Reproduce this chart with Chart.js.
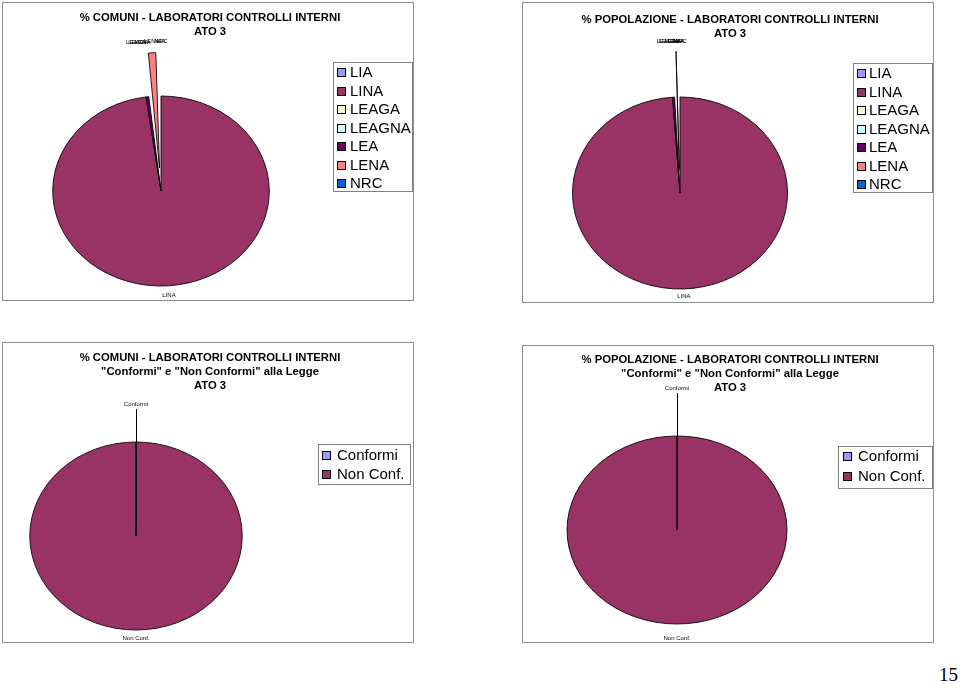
<!DOCTYPE html>
<html>
<head>
<meta charset="utf-8">
<script src="https://cdn.jsdelivr.net/npm/chart.js@4.4.0/dist/chart.umd.min.js"></script>
<style>
  body { margin: 0; background: #fff; width: 960px; height: 684px; position: relative; overflow: hidden; }
  .panel { position: absolute; border: 1px solid #8c8c8c; background: #fff; }
  .panel canvas { display: block; }
  #page { position: absolute; left: 939px; top: 664px; color: #000; font: 19px 'Liberation Serif', 'Times New Roman', serif; }
</style>
</head>
<body>
<div class="panel" style="left:2px;top:2px"><canvas id="c1" width="410" height="297"></canvas></div>
<div class="panel" style="left:522px;top:2px"><canvas id="c2" width="410" height="299"></canvas></div>
<div class="panel" style="left:2px;top:342px"><canvas id="c3" width="410" height="299"></canvas></div>
<div class="panel" style="left:522px;top:345px"><canvas id="c4" width="410" height="296"></canvas></div>
<div id="page">15</div>
<script>
// lab categories (top charts)
const labTypes = ['LIA', 'LINA', 'LEAGA', 'LEAGNA', 'LEA', 'LENA', 'NRC'];
const labColors = ['#9999FF', '#993366', '#FFFFCC', '#CCFFFF', '#660066', '#FF8080', '#0066CC'];
const comuniLab = [0, 97.8, 0, 0, 0.4, 1.8, 0];
const popolazioneLab = [0, 98.9, 0, 0, 0.3, 0.8, 0];

// conformity (bottom charts)
const confTypes = ['Conformi', 'Non Conf.'];
const confColors = ['#9999FF', '#993366'];
const comuniConf = [0, 100];
const popolazioneConf = [0, 100];

const FONT = "'Liberation Sans', Arial, sans-serif";

// explode = how far (px) each slice is pulled out
const panels = [
  { id: 'c1', title: ['% COMUNI - LABORATORI CONTROLLI INTERNI', 'ATO 3'], titleY: [15, 29],
    labels: labTypes, values: comuniLab, colors: labColors, explode: [0, 0, 0, 0, 0, 46, 0],
    cx: 158, cy: 188, r: 95, sx: 1.14, topGap: 4, bottomGap: 7, leader: false,
    legend: { x: 330, y: 59, w: 79, h: 129, row0: 69, step: 18.5, sw: 334, tx: 347 } },
  { id: 'c2', title: ['% POPOLAZIONE - LABORATORI CONTROLLI INTERNI', 'ATO 3'], titleY: [17, 31],
    labels: labTypes, values: popolazioneLab, colors: labColors, explode: [0, 0, 0, 0, 0, 47, 0],
    cx: 157, cy: 190, r: 96, sx: 1.12, topGap: 4, bottomGap: 4, leader: false,
    legend: { x: 330, y: 60, w: 79, h: 129, row0: 70, step: 18.5, sw: 334, tx: 346 } },
  { id: 'c3', title: ['% COMUNI - LABORATORI CONTROLLI INTERNI', '"Conformi" e "Non Conformi" alla Legge', 'ATO 3'], titleY: [15, 29, 43],
    labels: confTypes, values: comuniConf, colors: confColors, explode: [0, 0],
    cx: 133, cy: 193, r: 94, sx: 1.13, topGap: 33, bottomGap: 5, leader: true,
    legend: { x: 315, y: 101, w: 92, h: 40, row0: 112, step: 19, sw: 319, tx: 334 } },
  { id: 'c4', title: ['% POPOLAZIONE - LABORATORI CONTROLLI INTERNI', '"Conformi" e "Non Conformi" alla Legge', 'ATO 3'], titleY: [14, 28, 42],
    labels: confTypes, values: popolazioneConf, colors: confColors, explode: [0, 0],
    cx: 154, cy: 184, r: 94, sx: 1.17, topGap: 43, bottomGap: 11, leader: true,
    legend: { x: 315, y: 100, w: 94, h: 42, row0: 110, step: 20, sw: 320, tx: 335 } }
];

// stretch the pie horizontally, like the original ellipse
const ellipsePlugin = {
  id: 'ellipse',
  beforeDatasetsDraw(chart, args, opts) {
    const ca = chart.chartArea;
    const cx = (ca.left + ca.right) / 2, cy = (ca.top + ca.bottom) / 2;
    const ctx = chart.ctx;
    ctx.save();
    ctx.translate(cx, cy);
    ctx.scale(opts.sx, 1);
    ctx.translate(-cx, -cy);
  },
  afterDatasetsDraw(chart) {
    chart.ctx.restore();
  }
};

// titles, boxed legend and slice labels
const decorPlugin = {
  id: 'decor',
  afterDraw(chart, args, o) {
    const ctx = chart.ctx;
    const W = chart.width;
    ctx.save();

    // title
    ctx.fillStyle = '#000';
    ctx.font = 'bold 11.3px ' + FONT;
    ctx.textAlign = 'center';
    ctx.textBaseline = 'middle';
    o.title.forEach((t, i) => ctx.fillText(t, W / 2 + 2, o.titleY[i]));

    // legend
    const L = o.legend;
    const ds = chart.data.datasets[0];
    ctx.strokeStyle = '#808080';
    ctx.lineWidth = 1;
    ctx.strokeRect(L.x + 0.5, L.y + 0.5, L.w, L.h);
    ctx.font = '15px ' + FONT;
    ctx.textAlign = 'left';
    chart.data.labels.forEach((t, i) => {
      const y = Math.round(L.row0 + i * L.step);
      ctx.fillStyle = ds.backgroundColor[i];
      ctx.fillRect(L.sw, y - 4, 9, 9);
      ctx.strokeStyle = '#000';
      ctx.strokeRect(L.sw + 0.5, y - 3.5, 8, 8);
      ctx.fillStyle = '#000';
      ctx.fillText(t, L.tx, y + 1);
    });

    // slice labels
    const meta = chart.getDatasetMeta(0);
    const total = ds.data.reduce((a, b) => a + b, 0);
    const maxOff = Math.max(...o.explode);
    ctx.font = '6px ' + FONT;
    ctx.textAlign = 'center';
    meta.data.forEach((arc, i) => {
      const mid = (arc.startAngle + arc.endAngle) / 2;
      const minor = ds.data[i] < total / 2;
      const r = arc.outerRadius + (minor ? maxOff + o.topGap : o.bottomGap);
      const x = arc.x + o.sx * r * Math.cos(mid);
      const y = arc.y + r * Math.sin(mid);
      if (o.leader && ds.data[i] === 0) {
        ctx.strokeStyle = '#000';
        ctx.lineWidth = 1;
        ctx.beginPath();
        ctx.moveTo(Math.round(arc.x) + 0.5, arc.y);
        ctx.lineTo(Math.round(x) + 0.5, y);
        ctx.stroke();
      }
      ctx.fillStyle = '#000';
      ctx.textBaseline = Math.sin(mid) < 0 ? 'bottom' : 'top';
      ctx.fillText(chart.data.labels[i], x, Math.sin(mid) < 0 ? y - 2 : y);
    });
    ctx.restore();
  }
};

panels.forEach(p => {
  const canvas = document.getElementById(p.id);
  const W = canvas.width, H = canvas.height;
  new Chart(canvas, {
    type: 'pie',
    data: {
      labels: p.labels,
      datasets: [{
        data: p.values,
        backgroundColor: p.colors,
        borderColor: '#000',
        borderWidth: 0.8,
        offset: p.explode.map(e => e * 2), // chart.js moves an arc by offset / 2
        radius: p.r,
        clip: false
      }]
    },
    options: {
      responsive: false,
      animation: false,
      devicePixelRatio: 1,
      layout: {
        padding: {
          left: 0,
          right: W - 2 * p.cx,
          top: Math.max(0, 2 * p.cy - H),
          bottom: Math.max(0, H - 2 * p.cy)
        }
      },
      plugins: {
        legend: { display: false },
        title: { display: false },
        tooltip: { enabled: false },
        ellipse: { sx: p.sx },
        decor: p
      }
    },
    plugins: [ellipsePlugin, decorPlugin]
  });
});
</script>
</body>
</html>
